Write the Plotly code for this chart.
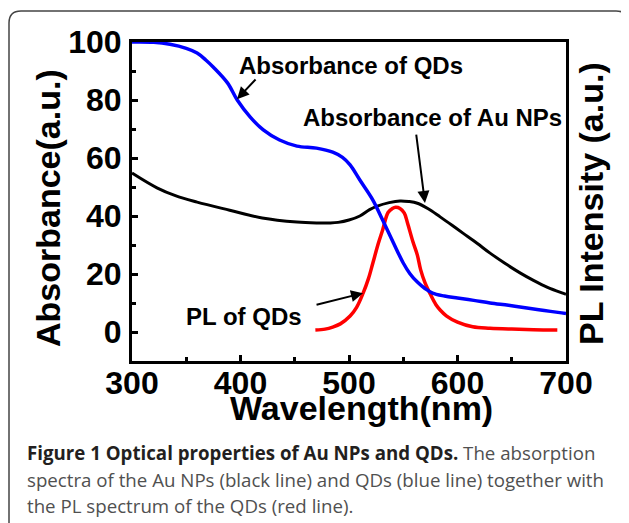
import plotly.graph_objects as go

# ---------------- data ----------------
au_wl = [300, 323, 340, 360, 390, 420, 452, 470, 482, 490, 500, 510, 519, 526, 537,
         547, 555, 563, 573, 584, 595, 605, 618, 630, 644, 658, 670, 683, 697, 700]
au_abs = [54.8, 49.7, 47.0, 44.8, 42.0, 39.3, 37.9, 37.6, 37.6, 37.8, 38.6, 40.0, 42.2, 43.4, 44.6,
          45.2, 45.0, 44.4, 42.5, 39.7, 36.8, 34.1, 30.6, 27.2, 23.6, 20.3, 17.8, 15.4, 13.4, 13.0]

qd_wl = [300, 320, 335, 350, 360, 368, 375, 388, 397, 409, 421, 436, 452, 470, 485, 494,
         501, 510, 522, 531, 541, 550, 556, 563, 570, 577, 588, 600, 615, 630, 647, 664,
         680, 696, 700]
qd_abs = [100, 99.9, 99.2, 97.8, 96.2, 93.8, 91.3, 85.9, 80.0, 74.1, 69.7, 66.2, 64.1, 63.4, 62.0, 60.2,
          57.6, 52.4, 45.5, 38.6, 30.7, 23.8, 20.2, 17.2, 15.0, 13.4, 12.4, 11.7, 10.9, 10.0, 9.2, 8.3,
          7.4, 6.6, 6.4]

pl_wl = [469, 478, 485, 492, 501, 507, 513, 518, 522, 527, 531, 536, 540, 543, 547, 551,
         554, 559, 563, 566, 570, 575, 580, 584, 590, 600, 614, 630, 650, 670, 692]
pl_int = [0.7, 1.0, 1.7, 2.8, 5.5, 8.5, 13.4, 18.5, 23.8, 30.5, 35.2, 41.2, 42.6, 43.0, 42.6, 41.0,
          37.5, 31.0, 26.5, 21.5, 17.0, 13.0, 9.5, 7.6, 5.5, 3.4, 1.8, 1.3, 1.0, 0.8, 0.7]

x_ticks = [300, 400, 500, 600, 700]
y_ticks = [0, 20, 40, 60, 80, 100]

# ---------------- geometry (page pixels; the page body adds an 8px offset) ----------------
OFF = 8
W, H = 629 - OFF, 523 - OFF
L, R, T, B = 132, 566, 42, 361          # plot area in page pixels
pw, ph = R - L, B - T

def px(x):
    return (x - L) / pw

def py(y):
    return (B - y) / ph

BOLD = "Liberation Sans, Arial, sans-serif"
CAP = "Open Sans, sans-serif"

fig = go.Figure()
fig.add_trace(go.Scatter(x=au_wl, y=au_abs, mode="lines", line=dict(color="black", width=3, shape="spline"),
                         name="Au NPs"))
fig.add_trace(go.Scatter(x=pl_wl, y=pl_int, mode="lines", line=dict(color="#ff0000", width=3.5, shape="spline"),
                         name="PL"))
fig.add_trace(go.Scatter(x=qd_wl, y=qd_abs, mode="lines", line=dict(color="#0000ff", width=3.5, shape="spline"),
                         name="QDs"))

fig.update_layout(
    width=W, height=H,
    margin=dict(l=L - OFF, r=W - (R - OFF), t=T - OFF, b=H - (B - OFF)),
    paper_bgcolor="white", plot_bgcolor="white",
    showlegend=False,
)
fig.update_xaxes(
    range=[300, 700], tickvals=x_ticks, ticktext=[str(v) for v in x_ticks],
    showgrid=False, zeroline=False,
    showline=True, linecolor="black", linewidth=3, mirror=True,
    ticks="inside", ticklen=6, tickwidth=3, tickcolor="black",
    tickfont=dict(family=BOLD, size=32, color="black", weight="bold"),
    minor=dict(ticks="inside", ticklen=4, tickwidth=3, tickcolor="black", dtick=50, showgrid=False),
    ticklabelstandoff=-8,
)
fig.update_yaxes(
    range=[-10, 100], tickvals=y_ticks, ticktext=[str(v) for v in y_ticks],
    showgrid=False, zeroline=False,
    showline=True, linecolor="black", linewidth=3, mirror=True,
    ticks="inside", ticklen=6, tickwidth=3, tickcolor="black",
    tickfont=dict(family=BOLD, size=32, color="black", weight="bold"),
    minor=dict(ticks="inside", ticklen=4, tickwidth=3, tickcolor="black", dtick=10, showgrid=False),
    ticklabelstandoff=1,
)

anns = []
# axis titles
anns.append(dict(text="<b>Absorbance(a.u.)</b>", x=px(48), y=py(208), xref="paper", yref="paper",
                 xanchor="center", yanchor="middle",
                 textangle=-90, showarrow=False, font=dict(family=BOLD, size=34, color="black")))
anns.append(dict(text="<b>PL Intensity (a.u.)</b>", x=px(591), y=py(204), xref="paper", yref="paper",
                 xanchor="center", yanchor="middle",
                 textangle=-90, showarrow=False, font=dict(family=BOLD, size=34, color="black")))
anns.append(dict(text="<b>Wavelength(nm)</b>", x=px(361), y=py(408), xref="paper", yref="paper",
                 xanchor="center", yanchor="middle",
                 showarrow=False, font=dict(family=BOLD, size=34, color="black")))

# curve labels
lab_font = dict(family=BOLD, size=24, color="black")
anns.append(dict(text="<b>Absorbance of QDs</b>", x=501.8, y=91.9, xref="x", yref="y",
                 xanchor="center", yanchor="middle", showarrow=False, font=lab_font))
anns.append(dict(text="<b>Absorbance of Au NPs</b>", x=577, y=74.0, xref="x", yref="y",
                 xanchor="center", yanchor="middle", showarrow=False, font=lab_font))
anns.append(dict(text="<b>PL of QDs</b>", x=403.2, y=5.2, xref="x", yref="y",
                 xanchor="center", yanchor="middle", showarrow=False, font=lab_font))

# arrows (head at curve, tail near label)
for hx, hy, tx, ty in [(396.8, 80.3, 415.2, 87.6), (570.0, 44.5, 561.8, 68.6), (512.9, 13.4, 468.7, 9.3)]:
    anns.append(dict(text="", x=hx, y=hy, ax=tx, ay=ty, xref="x", yref="y", axref="x", ayref="y",
                     showarrow=True, arrowhead=2, arrowsize=1.2, arrowwidth=2, arrowcolor="black",
                     standoff=0, startstandoff=0))

# caption
cap_lines = [
    "<span style='color:#231f20'><b>Figure 1 Optical properties of Au NPs and QDs.</b></span> The absorption",
    "spectra of the Au NPs (black line) and QDs (blue line) together with",
    "the PL spectrum of the QDs (red line).",
]
for t, yy in zip(cap_lines, [452, 479, 505]):
    anns.append(dict(text=t, x=px(25), y=py(yy), xref="paper", yref="paper", xanchor="left",
                     yanchor="middle", showarrow=False, align="left",
                     font=dict(family=CAP, size=18.7, color="#505050")))

fig.update_layout(annotations=anns)

# outer rounded frame
x0, x1 = px(9), px(628)
y0, y1 = py(11), py(540)
rx, ry = 12 / pw, 12 / ph
path = (f"M {x0+rx},{y0} L {x1-rx},{y0} Q {x1},{y0} {x1},{y0-ry} "
        f"L {x1},{y1+ry} Q {x1},{y1} {x1-rx},{y1} L {x0+rx},{y1} Q {x0},{y1} {x0},{y1+ry} "
        f"L {x0},{y0-ry} Q {x0},{y0} {x0+rx},{y0} Z")
fig.add_shape(type="path", path=path, xref="paper", yref="paper",
              line=dict(color="#444444", width=1.5), layer="below")

fig.write_html("out.html")
